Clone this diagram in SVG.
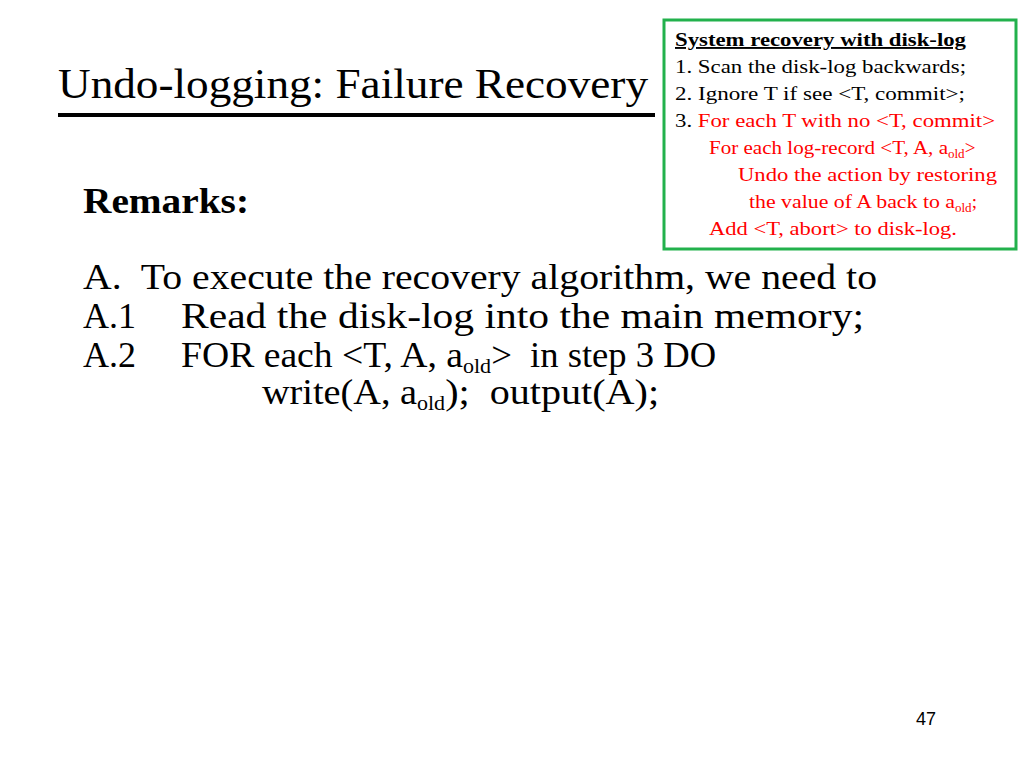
<svg xmlns="http://www.w3.org/2000/svg" width="1024" height="768" viewBox="0 0 1024 768">
<style>
.t{font-family:"Liberation Serif",serif;fill:#000}
.b{font-size:19px}
.r{fill:#ff0000}
.m{font-size:36px}
</style>
<rect width="1024" height="768" fill="#fff"/>
<text class="t" x="58" y="98" font-size="42" textLength="590" lengthAdjust="spacingAndGlyphs">Undo-logging: Failure Recovery</text>
<line x1="58" y1="115" x2="655" y2="115" stroke="#000" stroke-width="4"/>
<g id="box">
<rect x="664" y="20" width="352" height="229" fill="#fff" stroke="#22b14c" stroke-width="3"/>
<text class="t b" x="675" y="46" font-weight="bold" text-decoration="underline" textLength="291" lengthAdjust="spacingAndGlyphs">System recovery with disk-log</text>
<text class="t b" x="675" y="73" textLength="291" lengthAdjust="spacingAndGlyphs">1. Scan the disk-log backwards;</text>
<text class="t b" x="675" y="100" textLength="290" lengthAdjust="spacingAndGlyphs">2. Ignore T if see &lt;T, commit&gt;;</text>
<text class="t b" x="675" y="127" textLength="320" lengthAdjust="spacingAndGlyphs">3. <tspan class="r">For each T with no &lt;T, commit&gt;</tspan></text>
<text class="t b r" x="709" y="154"><tspan textLength="239" lengthAdjust="spacingAndGlyphs">For each log-record &lt;T, A, a</tspan><tspan font-size="13" dy="4">old</tspan><tspan dy="-4">&gt;</tspan></text>
<text class="t b r" x="738" y="181" textLength="259" lengthAdjust="spacingAndGlyphs">Undo the action by restoring</text>
<text class="t b r" x="749" y="208"><tspan textLength="206" lengthAdjust="spacingAndGlyphs">the value of A back to a</tspan><tspan font-size="13" dy="4">old</tspan><tspan dy="-4">;</tspan></text>
<text class="t b r" x="709" y="235" textLength="248" lengthAdjust="spacingAndGlyphs">Add &lt;T, abort&gt; to disk-log.</text>
</g>
<text class="t m" x="83" y="213" font-weight="bold" textLength="166" lengthAdjust="spacingAndGlyphs">Remarks:</text>
<text class="t m" x="83" y="289" textLength="794" lengthAdjust="spacingAndGlyphs" xml:space="preserve">A.  To execute the recovery algorithm, we need to</text>
<text class="t m" x="83" y="328">A.1</text>
<text class="t m" x="181" y="328" textLength="683" lengthAdjust="spacingAndGlyphs">Read the disk-log into the main memory;</text>
<text class="t m" x="83" y="367">A.2</text>
<text class="t m" x="181" y="367" xml:space="preserve"><tspan textLength="282" lengthAdjust="spacingAndGlyphs">FOR each &lt;T, A, a</tspan><tspan font-size="22" dy="6">old</tspan><tspan dy="-6" textLength="225" lengthAdjust="spacingAndGlyphs">&gt;  in step 3 DO</tspan></text>
<text class="t m" x="262" y="404" xml:space="preserve"><tspan textLength="155" lengthAdjust="spacingAndGlyphs">write(A, a</tspan><tspan font-size="22" dy="6">old</tspan><tspan dy="-6" textLength="214" lengthAdjust="spacingAndGlyphs">);  output(A);</tspan></text>
<text x="916" y="725" font-family="Liberation Sans,sans-serif" font-size="18">47</text>
</svg>
